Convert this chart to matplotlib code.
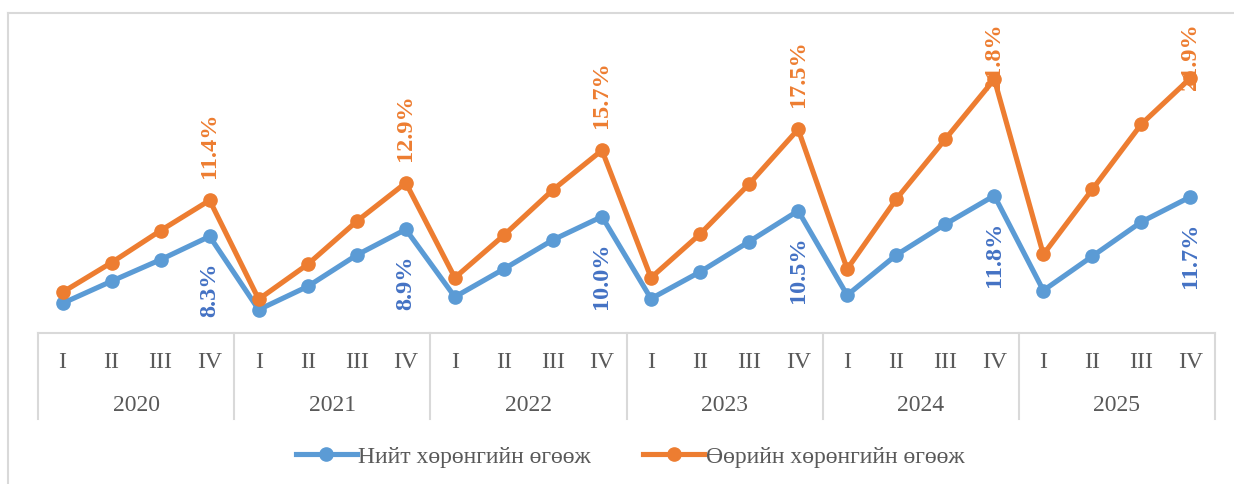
import matplotlib
matplotlib.use("Agg")
import matplotlib.pyplot as plt
from matplotlib.lines import Line2D

# ---- data ----
years = ["2020", "2021", "2022", "2023", "2024", "2025"]
quarters = ["I", "II", "III", "IV"]
total_roa = [2.55, 4.45, 6.3, 8.3,
             2.0, 4.0, 6.7, 8.9,
             3.1, 5.5, 8.0, 10.0,
             2.95, 5.25, 7.85, 10.5,
             3.25, 6.7, 9.35, 11.8,
             3.65, 6.6, 9.55, 11.7]
own_roe = [3.5, 6.05, 8.8, 11.4,
           2.9, 5.9, 9.6, 12.9,
           4.75, 8.4, 12.3, 15.7,
           4.75, 8.5, 12.8, 17.5,
           5.5, 11.5, 16.65, 21.8,
           6.75, 12.35, 17.95, 21.9]
series_names = ["Нийт хөрөнгийн өгөөж", "Өөрийн хөрөнгийн өгөөж"]

W, H = 1234, 485
fig = plt.figure(figsize=(W / 100, H / 100), dpi=100)
fig.patch.set_facecolor("white")

def fx(px):
    return px / W

def fy(py):
    return 1 - py / H

ax_left, ax_right = 38, 1215
ax_bottom, ax_top = 334, 43
ax = fig.add_axes([fx(ax_left), fy(ax_bottom), fx(ax_right - ax_left), (ax_bottom - ax_top) / H])
ax.set_xlim(-0.5, 23.5)
ax.set_ylim(0, 25)
ax.axis("off")

blue = "#5B9BD5"
orange = "#ED7D31"
blue_lbl = "#4472C4"
grey_txt = "#595959"
grid_c = "#D9D9D9"

x = list(range(len(total_roa)))
ax.plot(x, total_roa, color=blue, lw=3.7, marker="o", ms=9.5, zorder=4, clip_on=False,
        solid_joinstyle="round")
ax.plot(x, own_roe, color=orange, lw=3.7, marker="o", ms=9.5, zorder=5, clip_on=False,
        solid_joinstyle="round")

serif = "Liberation Serif"
fs = 17
lbl_fs = 17.5

top_limit_px = 23  # text may not go above this pixel row (from top)
for i in range(3, 24, 4):
    # orange above
    t = ax.annotate(f"{own_roe[i]:.1f}%", (i, own_roe[i]), xytext=(0, 16.5), textcoords="offset points",
                    rotation=90, ha="center", va="bottom", color=orange, fontsize=lbl_fs,
                    fontweight="bold", family=serif, zorder=3, annotation_clip=False)
    fig.canvas.draw()
    bb = t.get_window_extent()
    top_from_top = H - bb.y1
    if top_from_top < top_limit_px:
        shift = (top_limit_px - top_from_top) * 72 / 100
        t.set_position((0, 16.5 - shift))
    # blue below
    ax.annotate(f"{total_roa[i]:.1f}%", (i, total_roa[i]), xytext=(0, -18), textcoords="offset points",
                rotation=90, ha="center", va="top", color=blue_lbl, fontsize=lbl_fs,
                fontweight="bold", family=serif, zorder=3, annotation_clip=False)

# category table lines
fig.add_artist(Line2D([fx(ax_left), fx(ax_right)], [fy(334), fy(334)], color=grid_c, lw=1.5))
step = (ax_right - ax_left) / 6
for k in range(7):
    xp = ax_left + k * step
    fig.add_artist(Line2D([fx(xp), fx(xp)], [fy(334), fy(420)], color=grid_c, lw=1.5))

# quarter and year labels
qstep = (ax_right - ax_left) / 24
for i in range(24):
    xp = ax_left + (i + 0.5) * qstep
    fig.text(fx(xp), fy(363), quarters[i % 4], ha="center", va="center", fontsize=fs,
             family=serif, color=grey_txt)
for k, yr in enumerate(years):
    xp = ax_left + (k + 0.5) * step
    fig.text(fx(xp), fy(406), yr, ha="center", va="center", fontsize=fs, family=serif, color=grey_txt)

# outer chart frame (top and left only visible)
fig.add_artist(Line2D([fx(8), 1], [fy(14), fy(14)], color=grid_c, lw=1.5))
fig.add_artist(Line2D([fx(8), fx(8)], [fy(14), 0], color=grid_c, lw=1.5))

# legend
handles = [Line2D([], [], color=blue, lw=3.7, marker="o", ms=9.5),
           Line2D([], [], color=orange, lw=3.7, marker="o", ms=9.5)]
leg = fig.legend(handles, series_names, loc="center", bbox_to_anchor=(fx(630), fy(457)),
                 ncol=2, frameon=False, prop={"family": serif, "size": fs},
                 handlelength=2.6, handletextpad=0.05, columnspacing=2.2)
for txt in leg.get_texts():
    txt.set_color(grey_txt)

fig.savefig("out.png", dpi=100, facecolor="white")
